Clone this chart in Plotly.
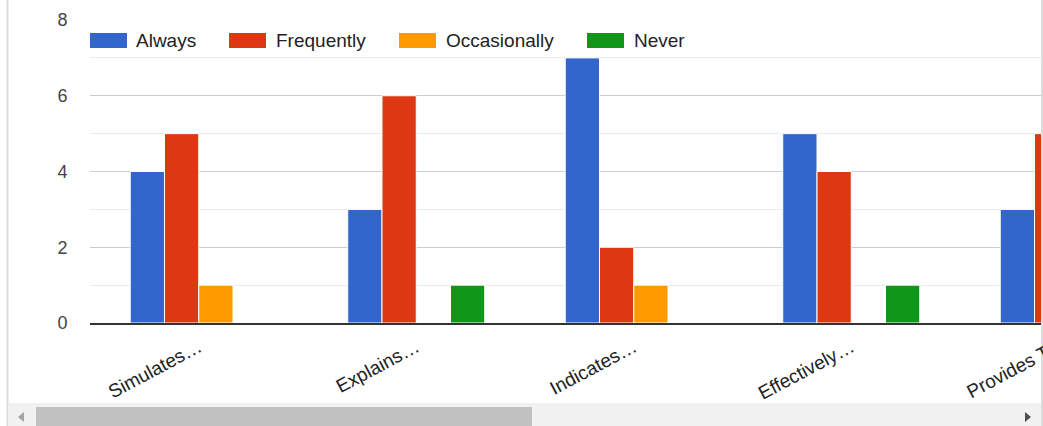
import plotly.graph_objects as go

# ---------------------------------------------------------------
# Données
# ---------------------------------------------------------------
questions = ["Simulates…", "Explains…", "Indicates…", "Effectively…", "Provides…"]
always = [4, 3, 7, 5, 3]
frequently = [5, 6, 2, 4, 5]
occasionally = [1, 0, 1, 0, 0]
never = [0, 1, 0, 1, 0]

series_names = ["Always", "Frequently", "Occasionally", "Never"]
colors = ["#3366cc", "#dc3912", "#ff9900", "#109618"]

W, H = 1043, 426
L, R, T, B = 90, 1, 20, 103
PW, PH = W - L - R, H - T - B


def px_x(x):
    return (x - L) / PW


def px_y(y):
    return (H - B - y) / PH


fig = go.Figure()
for name, vals, col in zip(series_names, [always, frequently, occasionally, never], colors):
    fig.add_trace(go.Bar(
        x=questions, y=vals, name=name,
        marker=dict(color=col, line=dict(color="white", width=1)),
        showlegend=False,
    ))

# légende manuelle (rectangles larges façon Google Charts)
shapes = []
annotations = []
legend_pos = [(90, 136), (229, 276), (399, 446), (587, 634)]
for (sx, tx), name, col in zip(legend_pos, series_names, colors):
    shapes.append(dict(type="rect", xref="paper", yref="paper",
                       x0=px_x(sx), x1=px_x(sx + 37), y0=px_y(48), y1=px_y(33),
                       fillcolor=col, line=dict(width=0), layer="above"))
    annotations.append(dict(text=name, xref="paper", yref="paper",
                            x=px_x(tx - 2), y=px_y(41), xanchor="left", yanchor="middle",
                            showarrow=False, font=dict(size=19, color="#222")))

# dernière étiquette, coupée par le bord droit
annotations.append(dict(text="Provides T…", xref="paper", yref="paper",
                        x=px_x(1072), y=px_y(330), xanchor="right", yanchor="top",
                        textangle=-28, showarrow=False, font=dict(size=19, color="#222")))

# cadre + barre de défilement
shapes += [
    dict(type="rect", xref="paper", yref="paper", x0=px_x(1041), x1=px_x(1043),
         y0=px_y(0), y1=px_y(426), fillcolor="white", line=dict(width=0), layer="above"),
    dict(type="line", xref="paper", yref="paper", x0=px_x(7.5), x1=px_x(7.5),
         y0=px_y(0), y1=px_y(426), line=dict(color="#dcdcdc", width=2)),
    dict(type="line", xref="paper", yref="paper", x0=px_x(1042), x1=px_x(1042),
         y0=px_y(0), y1=px_y(426), line=dict(color="#dcdcdc", width=2), layer="above"),
    dict(type="rect", xref="paper", yref="paper", x0=px_x(8.5), x1=px_x(1041),
         y0=px_y(426), y1=px_y(403), fillcolor="#f1f1f1", line=dict(width=0)),
    dict(type="rect", xref="paper", yref="paper", x0=px_x(36), x1=px_x(532),
         y0=px_y(426), y1=px_y(407), fillcolor="#c1c1c1", line=dict(width=0)),
    dict(type="path", xref="paper", yref="paper",
         path=f"M {px_x(18)} {px_y(417)} L {px_x(24)} {px_y(412)} L {px_x(24)} {px_y(422)} Z",
         fillcolor="#a3a3a3", line=dict(width=0)),
    dict(type="path", xref="paper", yref="paper",
         path=f"M {px_x(1031)} {px_y(417)} L {px_x(1025)} {px_y(412)} L {px_x(1025)} {px_y(422)} Z",
         fillcolor="#505050", line=dict(width=0)),
]

fig.update_layout(
    width=W, height=H,
    margin=dict(l=L, r=R, t=T, b=B),
    paper_bgcolor="white", plot_bgcolor="white",
    barmode="group", bargap=0.37, bargroupgap=0,
    font=dict(family="Liberation Sans, Arial, sans-serif", color="#444"),
    shapes=shapes, annotations=annotations,
    xaxis=dict(
        range=[-0.5, 3.877], tickangle=-28,
        tickfont=dict(size=19, color="#222"),
        showline=True, linecolor="#333", linewidth=2,
        showgrid=False, ticks="outside", ticklen=4, tickcolor="rgba(0,0,0,0)",
        fixedrange=True,
    ),
    yaxis=dict(
        range=[0, 8], tickvals=[0, 2, 4, 6, 8],
        tickfont=dict(size=18, color="#444"),
        showgrid=True, gridcolor="#cccccc", gridwidth=1,
        minor=dict(tickvals=[1, 3, 5, 7], showgrid=True, gridcolor="#ebebeb", gridwidth=1),
        zeroline=False, ticks="outside", ticklen=18, tickcolor="rgba(0,0,0,0)",
        fixedrange=True,
    ),
)

fig.write_html(
    "out.html",
    config={"displayModeBar": False},
    post_script="document.body.style.margin='0';document.body.style.overflow='hidden';",
)
